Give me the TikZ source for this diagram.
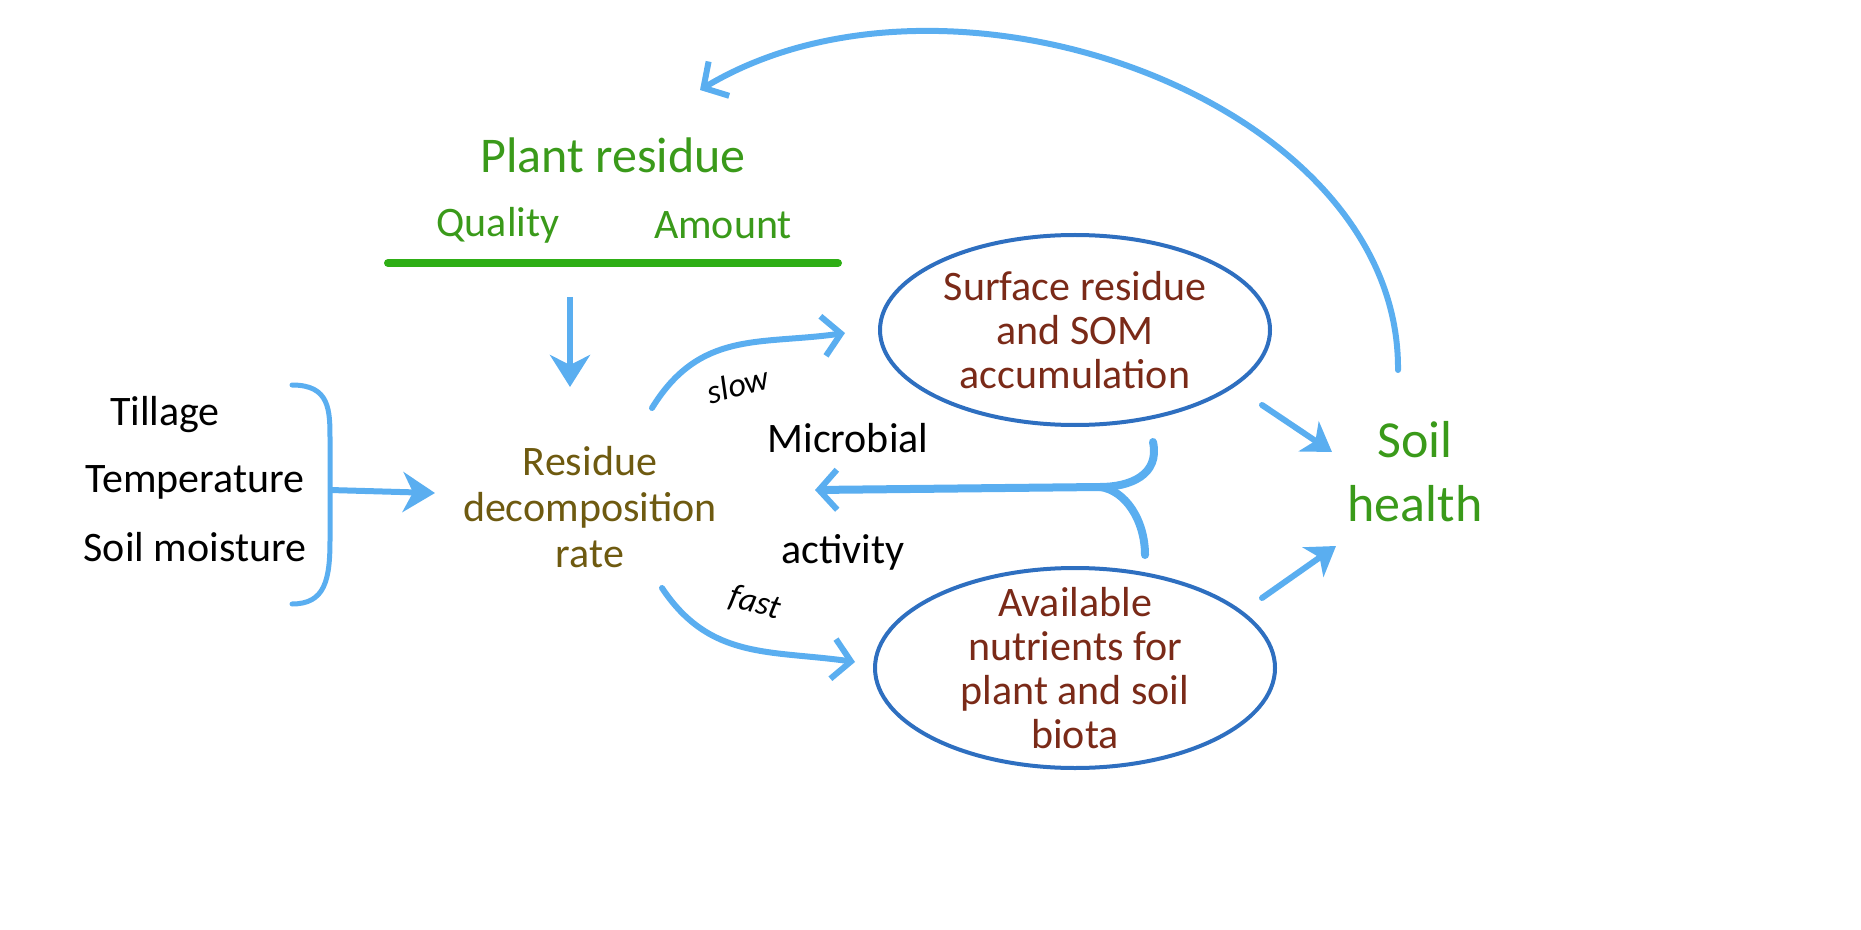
\documentclass[tikz,border=0pt]{standalone}
\usepackage{fontspec}
\setmainfont{Carlito}
\usetikzlibrary{arrows.meta,shapes.geometric}
\definecolor{ab}{HTML}{5AAEF0}
\definecolor{eb}{HTML}{2E6FC0}
\definecolor{gr}{HTML}{3A9A1A}
\definecolor{ol}{HTML}{6E5A10}
\definecolor{dr}{HTML}{7A2A18}
\tikzset{
 fs/.style={font=\fontsize{#1}{#1}\selectfont},
 fi/.style={font=\fontsize{#1}{#1}\selectfont\itshape},
 barb/.style={draw=ab,line width=3pt,line cap=round,-{Straight Barb[length=9pt,width=20pt,line width=3pt]}},
 ell/.style={draw=eb,line width=2pt,ellipse},
 et/.style={dr,fs=21,align=center},
}
\begin{document}
\begin{tikzpicture}[x=0.5pt,y=-0.5pt]
\useasboundingbox (0,0) rectangle (1861,930);
\node[gr,fs=25] (pr) at (613,155) {Plant residue};
\node[gr,fs=21] (q) at (498,225) {Quality};
\node[gr,fs=21] (am) at (723,225) {Amount};
\coordinate (g1) at (388,263); \coordinate (g2) at (838,263);
\draw[gr!80!green,line width=4pt,line cap=round] (g1) -- (g2);
\coordinate (d1) at (570,297); \coordinate (d2) at (570,387);
\draw[ab,line width=3pt,-{Stealth[length=16pt,width=20pt,inset=5pt]}] (d1) -- (d2);
\node[ol,fs=21,align=center] (rd) at (590,507) {Residue\\[2pt]decomposition\\[2pt]rate};
\node[fs=21] (t1) at (165,415) {Tillage};
\node[fs=21] (t2) at (195,482) {Temperature};
\node[fs=21] (t3) at (195,547) {Soil moisture};
\coordinate (b1) at (292,385); \coordinate (bm) at (330,490); \coordinate (b2) at (292,604);
\draw[ab,line width=2.5pt,line cap=round] (b1) .. controls (330,385) and (330,410) .. (330,440) -- (330,540) .. controls (330,580) and (325,604) .. (b2);
\coordinate (ba) at (435,493);
\draw[ab,line width=3pt,-{Stealth[length=16pt,width=20pt,inset=5pt]}] (bm) -- (ba);
\node[ell,minimum width=195pt,minimum height=95pt] (e1) at (1075,330) {};
\node[et] at (e1) {Surface residue\\[1pt]and SOM\\[1pt]accumulation};
\node[ell,minimum width=200pt,minimum height=100pt] (e2) at (1075,668) {};
\node[et] at (e2) {Available\\[1pt]nutrients for\\[1pt]plant and soil\\[1pt]biota};
\node[gr,fs=26,align=center] (sh) at (1415,472) {Soil\\[6pt]health};
\coordinate (s1) at (652,408); \coordinate (s2) at (845,333);
\draw[barb] (s1) .. controls (700,330) and (760,345) .. (s2);
\node[fi=17,rotate=15] (sl) at (738,385) {slow};
\coordinate (f1) at (662,588); \coordinate (f2) at (855,662);
\draw[barb] (f1) .. controls (710,660) and (770,650) .. (f2);
\node[fi=17,rotate=-15] (fa) at (755,603) {fast};
\node[fs=21] (mi) at (848,438) {Microbial};
\node[fs=21] (ac) at (843,552) {activity};
\coordinate (m1) at (1153,442); \coordinate (m2) at (1145,555); \coordinate (mj) at (1100,487); \coordinate (ma) at (815,490);
\draw[ab,line width=4pt,line cap=round] (m1) .. controls (1160,475) and (1130,487) .. (mj);
\draw[ab,line width=4pt,line cap=round] (m2) .. controls (1145,520) and (1125,490) .. (mj);
\draw[ab,line width=4pt,line cap=round,-{Straight Barb[length=9pt,width=20pt,line width=3pt]}] (mj) -- (ma);
\coordinate (h1) at (1262,405); \coordinate (h2) at (1332,452);
\draw[ab,line width=3pt,line cap=round,-{Stealth[length=14pt,width=18pt,inset=4pt]}] (h1) -- (h2);
\coordinate (h3) at (1262,598); \coordinate (h4) at (1336,546);
\draw[ab,line width=3pt,line cap=round,-{Stealth[length=14pt,width=18pt,inset=4pt]}] (h3) -- (h4);
\coordinate (a1) at (1398,370); \coordinate (a2) at (700,90);
\draw[barb] (a1) .. controls (1400,100) and (950,-60) .. (a2);
\end{tikzpicture}
\end{document}
